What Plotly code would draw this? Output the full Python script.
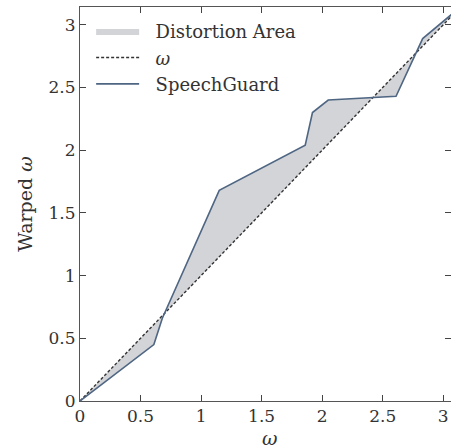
import math
import plotly.graph_objects as go

# ---- data ----
omega = [0.0, 0.50, 0.61, 0.68, 1.15, 1.86, 1.92, 2.05, 2.41, 2.61, 2.83, math.pi]
warped = [0.0, 0.37, 0.45, 0.66, 1.68, 2.04, 2.30, 2.40, 2.42, 2.43, 2.89, math.pi]
identity_x = [0.0, math.pi]
x_tick_step = 0.5
y_tick_step = 0.5

FONT = "DejaVu Serif"
LINE_COLOR = "#4f6683"
FILL_COLOR = "rgba(205,207,212,0.9)"
AXIS_COLOR = "#555555"
TEXT_COLOR = "#333333"

fig = go.Figure()
# base for the fill: identity evaluated at the curve's x values
fig.add_trace(go.Scatter(x=omega, y=omega, mode="lines", line=dict(width=0),
                         showlegend=False, hoverinfo="skip"))
fig.add_trace(go.Scatter(x=omega, y=warped, mode="lines", line=dict(width=0),
                         fill="tonexty", fillcolor=FILL_COLOR,
                         name="&nbsp;&nbsp;Distortion Area"))
fig.add_trace(go.Scatter(x=identity_x, y=identity_x, mode="lines",
                         line=dict(color="#333333", width=1.4, dash="3px,2px"),
                         name="&nbsp;&nbsp;<i>ω</i>"))
fig.add_trace(go.Scatter(x=omega, y=warped, mode="lines",
                         line=dict(color=LINE_COLOR, width=1.6),
                         name="&nbsp;&nbsp;SpeechGuard"))

axis_common = dict(
    showgrid=False, zeroline=False, showline=True, linecolor=AXIS_COLOR,
    linewidth=1, mirror="ticks", ticks="inside", ticklen=6, tickwidth=1,
    tickcolor="#444444",
    tickfont=dict(family=FONT, size=17, color=TEXT_COLOR),
)

fig.update_xaxes(range=[0, 3.064], tickmode="linear", tick0=0, dtick=x_tick_step, **axis_common)
fig.update_yaxes(range=[0, math.pi], tickmode="linear", tick0=0, dtick=y_tick_step,
                 title=dict(text="Warped <i>ω</i>", font=dict(family=FONT, size=19, color=TEXT_COLOR),
                            standoff=10),
                 **axis_common)

fig.add_annotation(x=math.pi / 2, xref="x", y=0, yref="paper", yanchor="middle",
                   yshift=-37, text="<i>ω</i>", showarrow=False,
                   font=dict(family=FONT, size=19, color=TEXT_COLOR))

fig.update_layout(
    width=451, height=448,
    margin=dict(l=80, r=0, t=7, b=47),
    plot_bgcolor="white", paper_bgcolor="white",
    showlegend=True,
    legend=dict(x=0.03, y=0.985, xanchor="left", yanchor="top",
                bgcolor="rgba(255,255,255,0)", itemwidth=43, traceorder="normal",
                font=dict(family=FONT, size=18, color=TEXT_COLOR),
                tracegroupgap=0),
)

fig.write_html("out.html")
